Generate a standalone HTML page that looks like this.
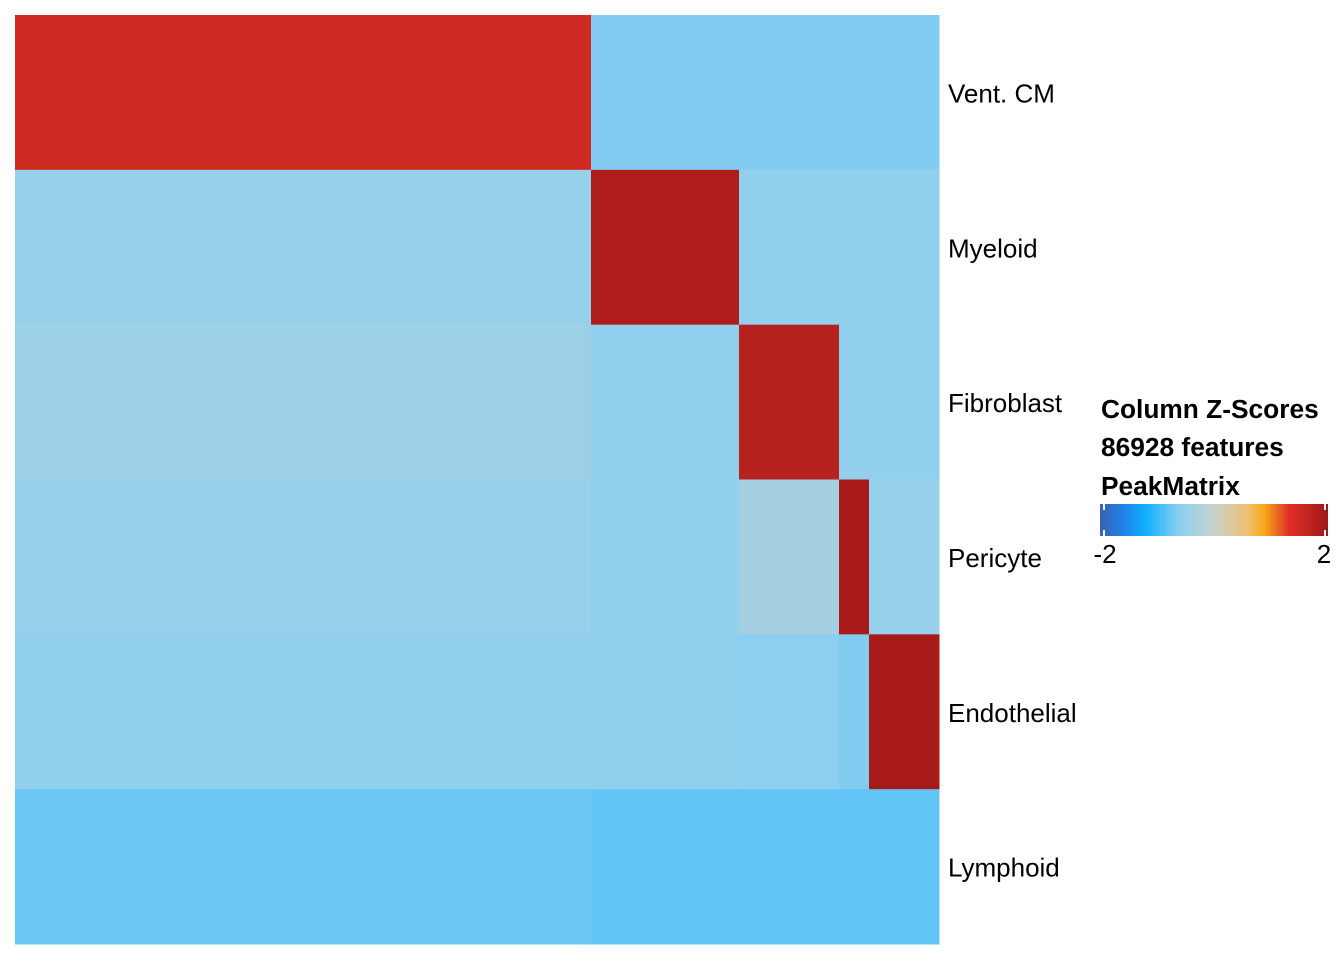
<!DOCTYPE html>
<html><head><meta charset="utf-8"><style>
body{margin:0;background:#fff;width:1344px;height:960px;overflow:hidden;font-family:"Liberation Sans",sans-serif}
</style></head><body>
<svg id="chart" width="1344" height="960" xmlns="http://www.w3.org/2000/svg">
<defs>
<linearGradient id="cbar" x1="0" x2="1" y1="0" y2="0">
<stop offset="0" stop-color="#3a62b0"/><stop offset="0.1" stop-color="#2080e8"/>
<stop offset="0.2" stop-color="#10b0ff"/><stop offset="0.35" stop-color="#8ccff0"/>
<stop offset="0.5" stop-color="#c8d2cc"/><stop offset="0.65" stop-color="#f0c070"/>
<stop offset="0.72" stop-color="#f8a818"/><stop offset="0.83" stop-color="#e03028"/>
<stop offset="1" stop-color="#a01818"/>
</linearGradient>
</defs>
<g id="cells"></g>
<g id="rowlabels" font-size="26" fill="#000"></g>
<g>
<text x="1101" y="418" font-size="26.3" font-weight="bold">Column Z-Scores</text>
<text x="1101" y="456" font-size="26.3" font-weight="bold">86928 features</text>
<text x="1101" y="495" font-size="26.3" font-weight="bold">PeakMatrix</text>
<rect x="1100" y="504" width="228" height="32" fill="url(#cbar)"/>
<line x1="1104" y1="504" x2="1104" y2="510" stroke="#fff" stroke-width="2"/>
<line x1="1104" y1="530" x2="1104" y2="536" stroke="#fff" stroke-width="2"/>
<line x1="1325" y1="504" x2="1325" y2="510" stroke="#fff" stroke-width="2"/>
<line x1="1325" y1="530" x2="1325" y2="536" stroke="#fff" stroke-width="2"/>
<text x="1105" y="563" font-size="26" text-anchor="middle">-2</text>
<text x="1324" y="563" font-size="26" text-anchor="middle">2</text>
</g>
</svg>
<script>
const rows = ["Vent. CM","Myeloid","Fibroblast","Pericyte","Endothelial","Lymphoid"];
const colGroups = ["Vent. CM","Myeloid","Fibroblast","Pericyte","Endothelial"];
const colGroupSizes = [576, 148, 100, 30, 70];
// mean z-score per row (cell type) x column group (feature block)
const zRow0 = [1.5, -0.65, -0.65, -0.65, -0.65];
const zRow1 = [-0.5, 1.85, -0.55, -0.55, -0.55];
const zRow2 = [-0.45, -0.55, 1.75, -0.55, -0.55];
const zRow3 = [-0.5, -0.55, -0.35, 1.9, -0.5];
const zRow4 = [-0.55, -0.55, -0.6, -0.65, 1.9];
const zRow5 = [-0.75, -0.8, -0.8, -0.8, -0.8];
const zValues = [zRow0, zRow1, zRow2, zRow3, zRow4, zRow5];

const stops = [[-2,[58,98,176]],[-1.6,[32,128,232]],[-1.2,[16,176,255]],[-0.6,[140,207,240]],[0,[200,210,204]],[0.6,[240,192,112]],[0.9,[248,168,24]],[1.3,[224,48,40]],[2,[160,24,24]]];
function color(z){
  z=Math.max(-2,Math.min(2,z));
  for(let i=0;i<stops.length-1;i++){
    const [a,ca]=stops[i],[b,cb]=stops[i+1];
    if(z<=b){const t=(z-a)/(b-a);return "rgb("+ca.map((c,k)=>Math.round(c+(cb[k]-c)*t)).join(",")+")";}
  }
}
const X0=15,X1=939,Y0=15,Y1=944;
const total=colGroupSizes.reduce((a,b)=>a+b,0);
const xScale=v=>X0+(X1-X0)*v/total;
const rowH=(Y1-Y0)/rows.length;
const yScale=i=>Y0+i*rowH;
const ns="http://www.w3.org/2000/svg";
const cells=document.getElementById("cells");
const labels=document.getElementById("rowlabels");
rows.forEach((r,i)=>{
  let acc=0;
  colGroups.forEach((g,j)=>{
    const rect=document.createElementNS(ns,"rect");
    
    
    const x=xScale(acc),w=xScale(acc+colGroupSizes[j])-x;
    rect.setAttribute("x",x);rect.setAttribute("y",yScale(i));
    rect.setAttribute("width",w+0.5);rect.setAttribute("height",rowH+0.5);
    rect.setAttribute("fill",color(zValues[i][j]));
    cells.appendChild(rect);
    acc+=colGroupSizes[j];
  });
  const t=document.createElementNS(ns,"text");
  
  
  t.setAttribute("x",948);t.setAttribute("y",yScale(i)+rowH/2+10);
  t.textContent=r;labels.appendChild(t);
});
</script>
</body></html>
